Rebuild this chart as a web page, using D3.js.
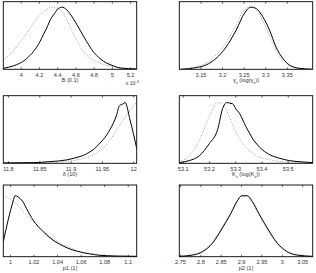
<!DOCTYPE html>
<html><head><meta charset="utf-8">
<script src="https://cdn.jsdelivr.net/npm/d3@7"></script>
<style>body{margin:0;background:#fff}svg{display:block}text{font-family:"Liberation Sans",Arial,sans-serif;fill:#333}</style>
</head><body><svg id="c" width="316" height="273"></svg>
<script>
// ---- data ----
const bX = [3.809,3.919,3.99,4.03,4.066,4.138,4.212,4.248,4.285,4.34,4.358,4.413,4.43,4.45,4.505,4.577,4.651,4.724,4.797,4.87,4.944,4.98,5.017,5.09,5.27];
const bSolid = [0.015,0.05,0.09,0.12,0.16,0.26,0.41,0.51,0.61,0.77,0.80,0.90,0.91,0.92,0.88,0.75,0.58,0.41,0.26,0.16,0.09,0.07,0.05,0.02,0.005];
const bDot   = [0.14,0.27,0.40,0.46,0.53,0.68,0.81,0.85,0.88,0.92,0.92,0.89,0.88,0.86,0.73,0.53,0.34,0.21,0.14,0.09,0.06,0.05,0.04,0.02,0.005];

const gX = [3.1053,3.140,3.163,3.186,3.2095,3.2327,3.252,3.267,3.279,3.294,3.310,3.325,3.341,3.356,3.379,3.41];
const gSolid = [0,0.025,0.064,0.16,0.33,0.58,0.83,0.92,0.90,0.78,0.58,0.33,0.16,0.064,0.015,0];
const gDot   = [0.005,0.04,0.09,0.21,0.40,0.66,0.88,0.92,0.87,0.72,0.50,0.28,0.13,0.05,0.012,0];

const dX = [11.7925,11.8404,11.867,11.8938,11.915,11.92,11.931,11.936,11.947,11.952,11.9577,11.963,11.968,11.973,11.978,11.984,11.987,11.995,12.0056];
const dSolid = [0.005,0.01,0.025,0.05,0.1,0.115,0.17,0.20,0.30,0.35,0.42,0.50,0.59,0.70,0.85,0.88,0.90,0.64,0.22];
const dDot   = [0.002,0.005,0.01,0.03,0.06,0.074,0.10,0.12,0.19,0.22,0.28,0.34,0.41,0.49,0.56,0.64,0.68,0.78,0.91];

const kX = [53.087,53.125,53.163,53.201,53.233,53.252,53.268,53.278,53.290,53.303,53.316,53.329,53.341,53.354,53.367,53.379,53.392,53.417,53.455,53.468,53.506,53.557,53.595];
const kSolid = [0.01,0.04,0.11,0.29,0.50,0.81,0.90,0.89,0.88,0.80,0.74,0.64,0.54,0.45,0.36,0.30,0.24,0.16,0.09,0.075,0.04,0.02,0.01];
const kDot   = [0.03,0.11,0.34,0.69,0.90,0.88,0.78,0.69,0.57,0.46,0.37,0.29,0.23,0.19,0.15,0.11,0.09,0.065,0.035,0.03,0.018,0.012,0.01];

const p1X = [0.99436,1.00282,1.00423,1.00986,1.01127,1.0141,1.0197,1.0282,1.0366,1.0451,1.0535,1.0564,1.0648,1.0676,1.0761,1.0817,1.0902,1.1076];
const p1Solid = [0.21,0.78,0.85,0.79,0.76,0.67,0.51,0.35,0.23,0.15,0.093,0.08,0.047,0.04,0.019,0.014,0.009,0.005];
const p1Dot   = [0.86,0.77,0.75,0.66,0.63,0.58,0.49,0.36,0.25,0.17,0.11,0.084,0.053,0.047,0.025,0.019,0.01,0.005];

const p2X = [2.7483,2.781,2.8055,2.830,2.854,2.8747,2.891,2.9016,2.9155,2.9277,2.944,2.9644,2.9889,3.0133,3.0378,3.0759];
const p2Solid = [0.005,0.023,0.07,0.19,0.40,0.60,0.78,0.85,0.85,0.77,0.60,0.40,0.19,0.07,0.023,0.005];
const p2Dot   = [0.007,0.03,0.08,0.21,0.42,0.62,0.79,0.85,0.84,0.75,0.58,0.38,0.18,0.065,0.02,0.005];

const bTicks = [4,4.2,4.4,4.6,4.8,5,5.2];
const gTicks = [3.15,3.2,3.25,3.3,3.35];
const dTicks = [11.8,11.85,11.9,11.95,12];
const kTicks = [53.1,53.2,53.3,53.4,53.5];
const p1Ticks = [1,1.02,1.04,1.06,1.08,1.1];
const p2Ticks = [2.75,2.8,2.85,2.9,2.95,3,3.05];

const panels = [
 {x:bX,s:bSolid,d:bDot,ticks:bTicks,dom:[3.809,5.273],col:0,row:0,label:[["B (0.1)"]],exp:true},
 {x:gX,s:gSolid,d:gDot,ticks:gTicks,dom:[3.101,3.41],col:1,row:0,label:[["γ"],["s","sub"],[" (log(γ"],["s","sub"],["))"]]},
 {x:dX,s:dSolid,d:dDot,ticks:dTicks,dom:[11.7925,12.0056],col:0,row:1,label:[["δ (10)"]]},
 {x:kX,s:kSolid,d:kDot,ticks:kTicks,dom:[53.087,53.595],col:1,row:1,label:[["K"],["s","sub"],[" (log(K"],["s","sub"],["))"]]},
 {x:p1X,s:p1Solid,d:p1Dot,ticks:p1Ticks,dom:[0.99436,1.1076],col:0,row:2,label:[["p1 (1)"]]},
 {x:p2X,s:p2Solid,d:p2Dot,ticks:p2Ticks,dom:[2.7483,3.0759],col:1,row:2,label:[["p2 (1)"]]}
];

const cols = [[3.3,136.7],[179.3,312.7]];
const rows = [[1.7,69.3],[95.7,163.3],[185,256.7]];
const svg = d3.select("#c");

panels.forEach(p=>{
  const [x0,x1] = cols[p.col], [y0,y1] = rows[p.row];
  const xs = d3.scaleLinear().domain(p.dom).range([x0,x1]);
  const ys = d3.scaleLinear().domain([0,1]).range([y1,y0]);
  const g = svg.append("g");
  const clipId = "cl"+p.col+p.row;
  g.append("clipPath").attr("id",clipId).append("rect").attr("x",x0).attr("y",y0).attr("width",x1-x0).attr("height",y1-y0);
  const line = d3.line().x((v,i)=>xs(p.x[i])).y(v=>ys(v)).curve(d3.curveMonotoneX);
  g.append("path").attr("d",line(p.d)).attr("fill","none").attr("stroke","#888").attr("stroke-width",0.9).attr("stroke-dasharray","0.9,1.6").attr("clip-path",`url(#${clipId})`);
  g.append("path").attr("d",line(p.s)).attr("fill","none").attr("stroke","#000").attr("stroke-width",1.0).attr("clip-path",`url(#${clipId})`);
  const bot = d3.axisBottom(xs).tickValues(p.ticks).tickSize(-2).tickPadding(3.5).tickFormat(d3.format("~g"));
  const ga = g.append("g").attr("transform",`translate(0,${y1})`).call(bot);
  ga.select(".domain").remove();
  ga.selectAll("line").attr("stroke","#000").attr("stroke-width",0.6);
  ga.selectAll("text").attr("font-size",5.6).attr("font-family","Liberation Sans").attr("fill","#333");
  const top = d3.axisTop(xs).tickValues(p.ticks).tickSize(-2).tickFormat("");
  const gt = g.append("g").attr("transform",`translate(0,${y0})`).call(top);
  gt.select(".domain").remove();
  gt.selectAll("line").attr("stroke","#000").attr("stroke-width",0.6);
  g.append("rect").attr("x",x0).attr("y",y0).attr("width",x1-x0).attr("height",y1-y0).attr("fill","none").attr("stroke","#000").attr("stroke-width",0.9);
  const t = g.append("text").attr("x",(x0+x1)/2).attr("y",y1+13).attr("text-anchor","middle").attr("font-size",5.6);
  let pending = 0;
  p.label.forEach(([s,k])=>{
    if(k==="sub"){ t.append("tspan").attr("font-size",4).attr("dy",1.5+pending).text(s); pending=-1.5; }
    else { t.append("tspan").attr("dy",pending).text(s); pending=0; }
  });
  if(p.exp){
    const e = g.append("text").attr("x",x1-11).attr("y",y1+16).attr("font-size",5.2);
    e.append("tspan").text("x 10");
    e.append("tspan").attr("font-size",3.8).attr("dy",-2.2).text("-3");
  }
});
</script></body></html>
